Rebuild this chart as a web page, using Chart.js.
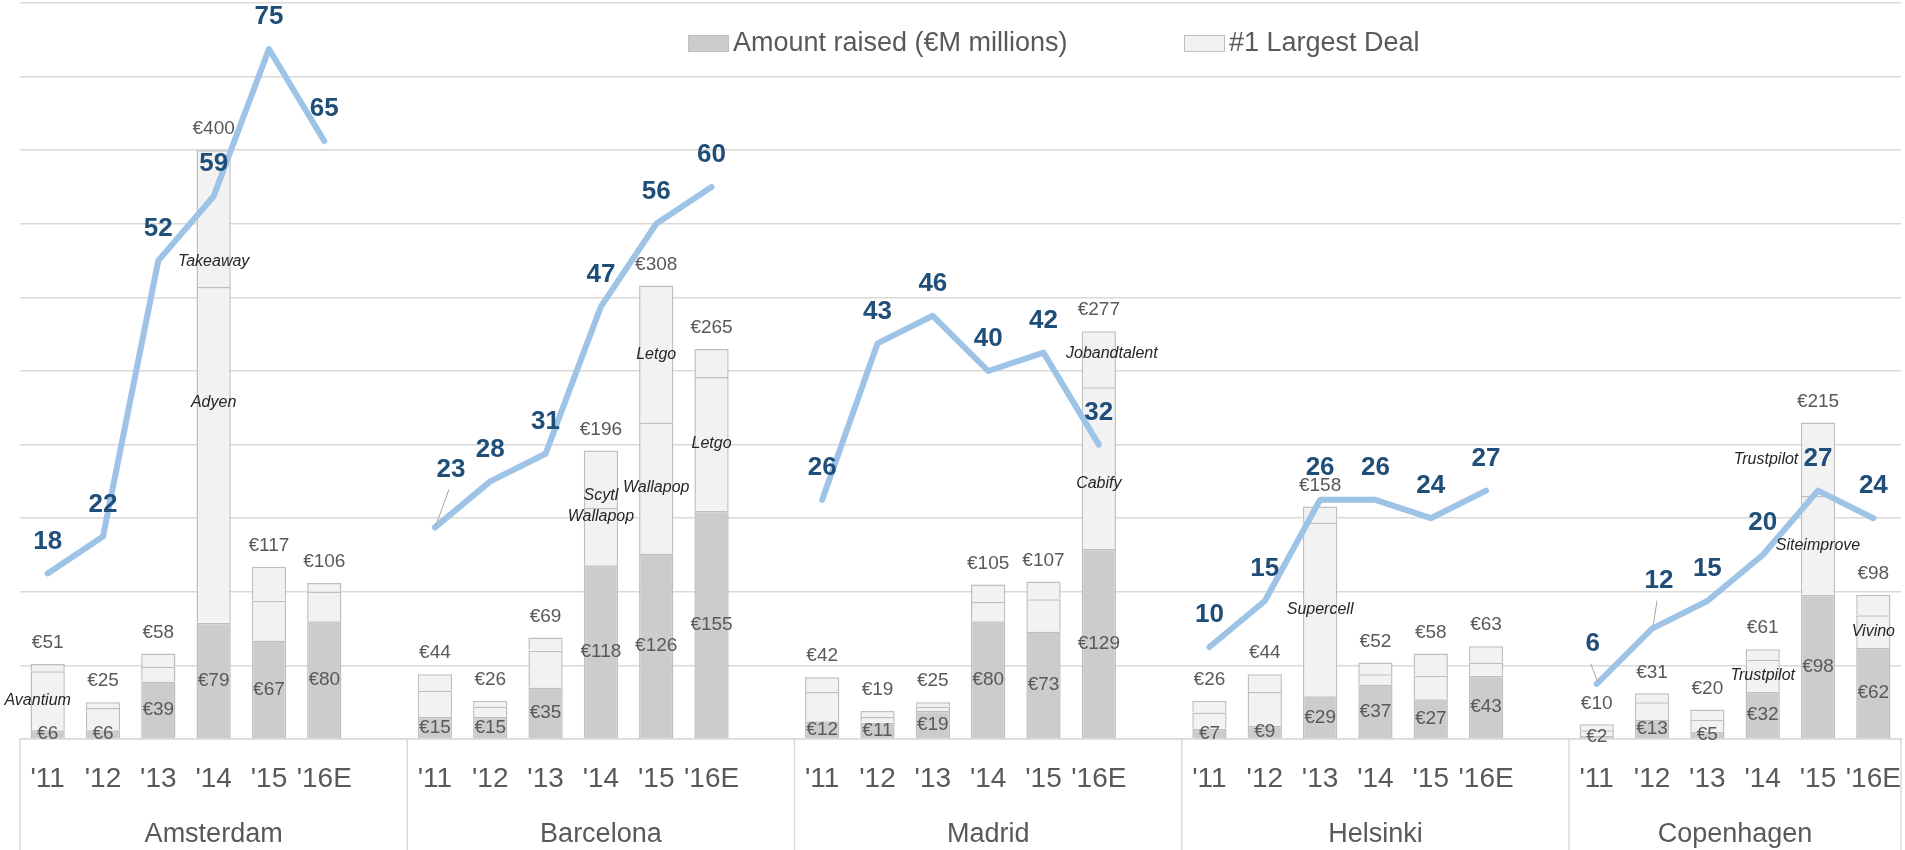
<!DOCTYPE html>
<html>
<head>
<meta charset="utf-8">
<script src="https://cdn.jsdelivr.net/npm/chart.js@4.4.0/dist/chart.umd.min.js"></script>
<style>
  html, body { margin: 0; padding: 0; background: #fff; }
  canvas { display: block; }
</style>
</head>
<body>
<canvas id="chart" width="1905" height="850"></canvas>
<script>
// Villes et années (une case vide entre chaque ville, comme dans Excel)
const cities = ['Amsterdam', 'Barcelona', 'Madrid', 'Helsinki', 'Copenhagen'];
const years = ["'11", "'12", "'13", "'14", "'15", "'16E"];

// Montants (M€), 6 valeurs par ville
const amountRaised = [6, 6, 39, 79, 67, 80,
                      15, 15, 35, 118, 126, 155,
                      12, 11, 19, 80, 73, 129,
                      7, 9, 29, 37, 27, 43,
                      2, 13, 5, 32, 98, 62];
const largestDeal = [40, 15, 10, 228, 27, 20,
                     18, 7, 25, 39, 89, 91,
                     20, 4, 3, 13, 22, 110,
                     11, 23, 118, 7, 16, 9,
                     4, 12, 8, 22, 67, 22];
const secondDeal = [5, 4, 9, 93, 23, 6,
                    11, 4, 9, 39, 93, 19,
                    10, 4, 3, 12, 12, 38,
                    8, 12, 11, 8, 15, 11,
                    4, 6, 7, 7, 50, 14];
// Nombre de deals (axe secondaire)
const dealCount = [18, 22, 52, 59, 75, 65,
                   23, 28, 31, 47, 56, 60,
                   26, 43, 46, 40, 42, 32,
                   10, 15, 26, 26, 24, 27,
                   6, 12, 15, 20, 27, 24];
// Noms des plus gros deals
const largestDealName = ['Avantium', '', '', 'Adyen', '', '',
                         '', '', '', 'Wallapop', 'Wallapop', 'Letgo',
                         '', '', '', '', '', 'Cabify',
                         '', '', 'Supercell', '', '', '',
                         '', '', '', 'Trustpilot', 'Siteimprove', 'Vivino'];
const secondDealName = ['', '', '', 'Takeaway', '', '',
                        '', '', '', 'Scytl', 'Letgo', '',
                        '', '', '', '', '', 'Jobandtalent',
                        '', '', '', '', '', '',
                        '', '', '', '', 'Trustpilot', ''];

// petits décalages des étiquettes déplacées à la main dans l'original
const nameNudge = { '0:1': [-10, 0], '3:1': [0, -52], '3:2': [0, 43], '9:1': [0, -20], '9:2': [0, 16],
                    '17:1': [0, 15], '17:2': [13, -6], '28:2': [-52, 0] };
const lineLift = { 6: [16, 58, true], 24: [-4, 40, true], 25: [7, 48, true] };

// construction des axes : 6 années + une case vide entre les villes
const labels = [];
const rawIdx = [];
cities.forEach((c, ci) => {
    years.forEach((y, j) => { labels.push(y); rawIdx.push(ci * 6 + j); });
    if (ci < cities.length - 1) { labels.push(''); rawIdx.push(null); }
});
const pad = arr => rawIdx.map(r => r === null ? null : arr[r]);

const GREY_TXT = '#595959';
const GRID = '#D9D9D9';

const labelPlugin = {
    id: 'labelPlugin',
    afterDatasetsDraw(chart) {
        const ctx = chart.ctx;
        const m0 = chart.getDatasetMeta(0).data;
        const m1 = chart.getDatasetMeta(1).data;
        const m2 = chart.getDatasetMeta(2).data;
        const ml = chart.getDatasetMeta(3).data;
        ctx.save();
        ctx.textAlign = 'center';
        ctx.textBaseline = 'middle';
        // étiquettes des barres
        rawIdx.forEach((r, i) => {
            if (r === null) return;
            const a = m0[i], b = m1[i], t = m2[i];
            ctx.font = '19px "Liberation Sans"';
            ctx.fillStyle = GREY_TXT;
            ctx.fillText('€' + amountRaised[r], a.x, (a.y + a.base) / 2);
            const total = amountRaised[r] + largestDeal[r] + secondDeal[r];
            ctx.fillText('€' + total, t.x, Math.min(a.y, b.y, t.y) - 21);
            ctx.font = 'italic 16px "Liberation Sans"';
            ctx.fillStyle = '#262626';
            [[b, largestDealName[r], 1], [t, secondDealName[r], 2]].forEach(([el, name, k]) => {
                if (!name) return;
                const n = nameNudge[r + ':' + k] || [0, 0];
                ctx.fillText(name, el.x + n[0], (el.y + el.base) / 2 + n[1]);
            });
        });
        // étiquettes de la courbe
        rawIdx.forEach((r, i) => {
            if (r === null) return;
            const p = ml[i];
            const lift = lineLift[r] || [0, 32, false];
            const lx = p.x + lift[0], ly = p.y - lift[1];
            if (lift[2]) {
                ctx.strokeStyle = '#A6A6A6';
                ctx.lineWidth = 1;
                ctx.beginPath();
                ctx.moveTo(lx - 2, ly + 20);
                ctx.lineTo(p.x + 1, p.y - 2);
                ctx.stroke();
            }
            ctx.font = 'bold 26px "Liberation Sans"';
            ctx.fillStyle = '#1F4E79';
            ctx.fillText(String(dealCount[r]), lx, ly);
        });
        ctx.restore();
    },
    afterDraw(chart) {
        const ctx = chart.ctx;
        const xs = chart.scales.x;
        const half = (xs.getPixelForValue(1) - xs.getPixelForValue(0)) / 2;
        ctx.save();
        // cases des villes sous l'axe
        ctx.strokeStyle = GRID;
        ctx.lineWidth = 1.5;
        ctx.fillStyle = GREY_TXT;
        ctx.font = '27px "Liberation Sans"';
        ctx.textAlign = 'center';
        ctx.textBaseline = 'middle';
        cities.forEach((c, ci) => {
            const start = ci * 7;
            const end = ci < cities.length - 1 ? start + 6 : start + 5;
            const left = xs.getPixelForValue(start) - half;
            const right = xs.getPixelForValue(end) + half;
            ctx.beginPath();
            ctx.moveTo(left, xs.top);
            ctx.lineTo(left, chart.height);
            if (ci === cities.length - 1) {
                ctx.moveTo(right, xs.top);
                ctx.lineTo(right, chart.height);
            }
            ctx.stroke();
            ctx.fillText(c, (left + right) / 2, 835);
        });
        // légende
        ctx.font = '27px "Liberation Sans"';
        ctx.textAlign = 'left';
        const ds = chart.data.datasets;
        [[ds[0], 688], [ds[1], 1184]].forEach(([d, x]) => {
            ctx.fillStyle = d.backgroundColor;
            ctx.fillRect(x, 35, 41, 17);
            ctx.strokeStyle = d.borderColor;
            ctx.lineWidth = 1;
            ctx.strokeRect(x + 0.5, 35.5, 40, 16);
            ctx.fillStyle = GREY_TXT;
            ctx.fillText(d.label, x + 45, 44);
        });
        ctx.restore();
    }
};

const barCommon = { type: 'bar', stack: 's', borderColor: '#BFBFBF', borderWidth: 1.5, order: 2,
                    barPercentage: 0.62, categoryPercentage: 1, yAxisID: 'y' };

new Chart(document.getElementById('chart').getContext('2d'), {
    type: 'bar',
    data: {
        labels: labels,
        datasets: [
            Object.assign({ label: 'Amount raised (€M millions)', data: pad(amountRaised), backgroundColor: '#CCCCCC' }, barCommon),
            Object.assign({ label: '#1 Largest Deal', data: pad(largestDeal), backgroundColor: '#F2F2F2' }, barCommon),
            Object.assign({ label: '#2 Largest Deal', data: pad(secondDeal), backgroundColor: '#F2F2F2' }, barCommon),
            {
                type: 'line', label: 'Deals', data: pad(dealCount), yAxisID: 'y1', order: 0,
                borderColor: '#9DC3E6', borderWidth: 6, pointRadius: 0, tension: 0,
                spanGaps: false, borderCapStyle: 'round', borderJoinStyle: 'round'
            }
        ]
    },
    options: {
        responsive: false,
        animation: false,
        layout: { padding: { left: 20, right: 4, top: 3, bottom: 0 } },
        plugins: { legend: { display: false }, tooltip: { enabled: false } },
        scales: {
            x: {
                stacked: true,
                grid: { display: false },
                border: { display: true, color: GRID, width: 1.5 },
                ticks: { color: GREY_TXT, font: { family: 'Liberation Sans', size: 28 }, padding: 15, maxRotation: 0, autoSkip: false },
                afterFit: s => { s.height = 111; s.paddingLeft = 0; s.paddingRight = 0; }
            },
            y: {
                stacked: true, min: 0, max: 500,
                ticks: { display: false, stepSize: 50 },
                grid: { color: GRID, lineWidth: 1.5, drawTicks: false },
                border: { display: false },
                afterFit: s => { s.width = 0; }
            },
            y1: { display: false, min: 0, max: 80, stacked: false }
        }
    },
    plugins: [labelPlugin]
});
</script>
</body>
</html>
